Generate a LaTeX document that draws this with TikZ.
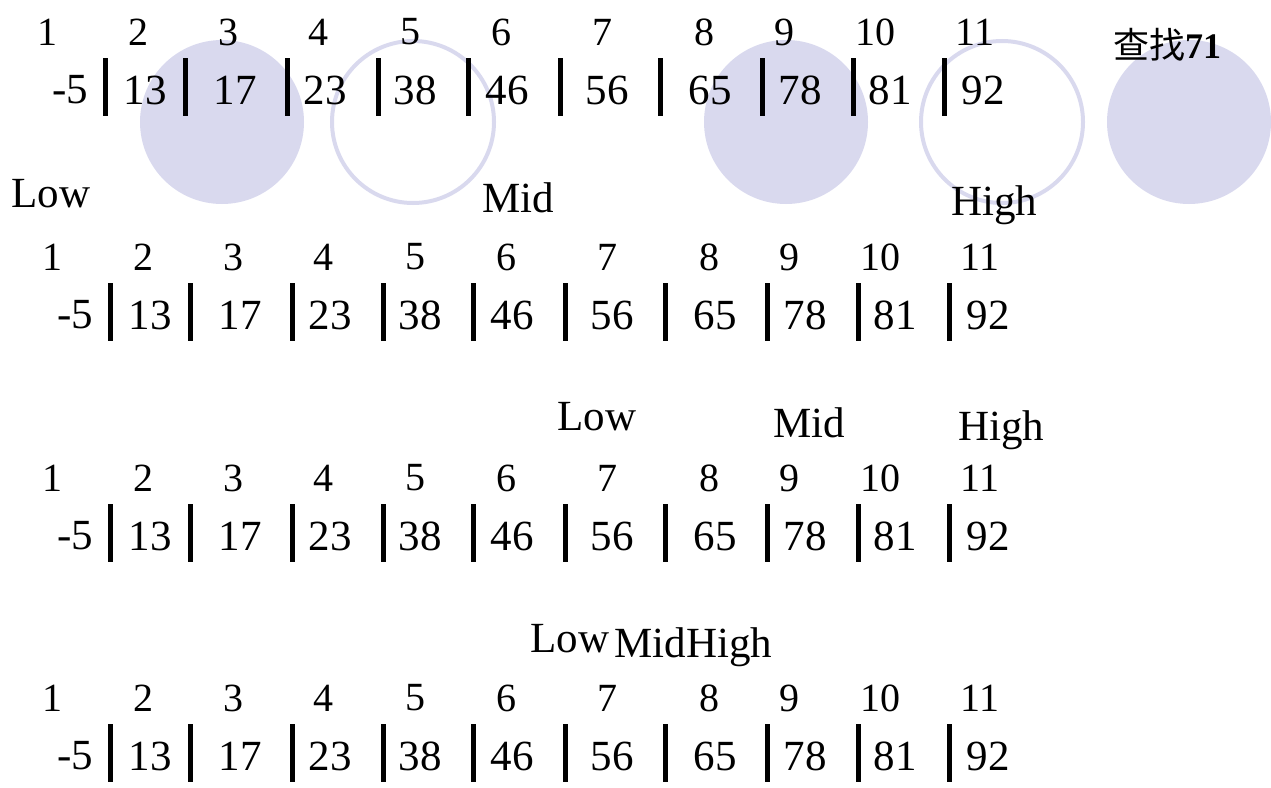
\documentclass[tikz,border=0pt]{standalone}
\usepackage{fontspec}
\setmainfont{Liberation Serif}
\newfontfamily\cjkfont{Noto Sans CJK SC}
\usetikzlibrary{positioning}
\definecolor{blobcol}{RGB}{217,217,238}
\tikzset{
  idxlabel/.style={inner sep=0pt, font=\fontsize{40}{48}\selectfont},
  vallabel/.style={inner sep=0pt, font=\fontsize{43}{52}\selectfont},
  ptrlabel/.style={inner sep=0pt, anchor=base, font=\fontsize{43}{52}\selectfont},
  sepbar/.style={line width=5pt},
  fullblob/.style={fill=blobcol},
  ringblob/.style={draw=blobcol, line width=4pt}
}

\begin{document}
\begin{tikzpicture}[x=1pt, y=-1pt]
  \useasboundingbox (0,0) rectangle (1271,787);

  % highlight circles
  \fill[fullblob] (222,122) circle (82pt);
  \draw[ringblob] (413,122) circle (81pt);
  \fill[fullblob] (786,122) circle (82pt);
  \draw[ringblob] (1002,122) circle (81pt);
  \fill[fullblob] (1189,122) circle (82pt);

  \node[inner sep=0pt, font=\fontsize{36}{42}\selectfont] (query) at (1167,45) {{\cjkfont 查找}\textbf{71}};

  % four copies of the array
  \foreach \r/\dx/\dy in {1/-5/0, 2/0/225, 3/0/446, 4/0/666} {
    \foreach \i/\ix/\v/\vx in {1/52/-5/75, 2/143/13/150, 3/233/17/240, 4/323/23/330,
        5/415/38/420, 6/506/46/512, 7/607/56/612, 8/709/65/715, 9/789/78/805,
        10/880/81/895, 11/980/92/988} {
      \node[idxlabel] (i\r-\i) at ({\ix+\dx},{32+\dy}) {\i};
      \node[vallabel] (v\r-\i) at ({\vx+\dx},{90+\dy}) {\v};
    }
    \foreach \bx in {110,190,292,383,473,565,665,767,858,949}
      \draw[sepbar] ({\bx+\dx},{58+\dy}) -- ({\bx+\dx},{116+\dy});
  }

  % pointers
  \node[ptrlabel] (low1) at (51,207) {Low};
  \node[ptrlabel] (mid1) at (518,212) {Mid};
  \node[ptrlabel] (high1) at (994,215) {High};
  \node[ptrlabel] (low3) at (597,430) {Low};
  \node[ptrlabel] (mid3) at (809,437) {Mid};
  \node[ptrlabel] (high3) at (1001,440) {High};
  \node[ptrlabel] (low4) at (570,652) {Low};
  \node[ptrlabel] (mid4) at (650,657) {Mid};
  \node[ptrlabel, right=0pt of mid4.base east, anchor=base west] (high4) {High};
\end{tikzpicture}
\end{document}
